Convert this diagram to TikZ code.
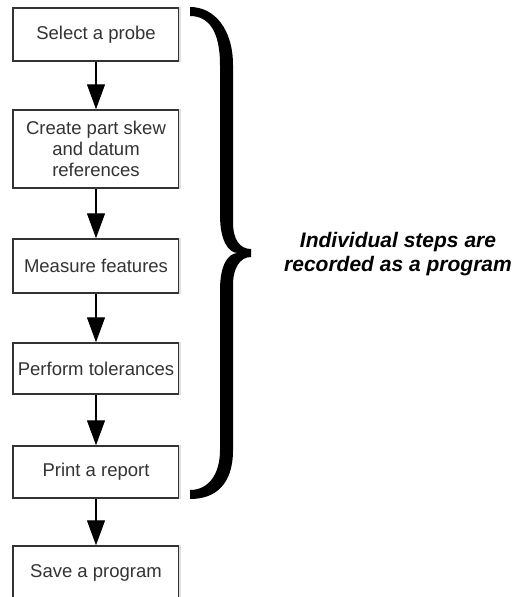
\documentclass[tikz,border=0pt]{standalone}
\usepackage{fontspec}
\setmainfont{Liberation Sans}
\usepackage{tikz}
\usetikzlibrary{arrows.meta}

\tikzset{
  stepbox/.style={draw=black!80,line width=1.5pt,fill=white,text=black!80,
    minimum width=166pt,inner sep=0pt,align=center,
    font=\fontsize{18.5}{21}\selectfont},
  flow/.style={draw=black,line width=1.3pt,-{Triangle[length=25pt,width=18pt]}}
}

\begin{document}
\begin{tikzpicture}[x=1pt,y=-1pt]
  \fill[white] (0,0) rectangle (524,597);
  \useasboundingbox (0,0) rectangle (524,597);
  \node[stepbox,minimum height=53pt] (probe) at (96,34.5) {Select a probe};
  \node[stepbox,minimum height=78pt] (skew) at (96,149) {Create part skew\\and datum\\references};
  \node[stepbox,minimum height=54pt] (measure) at (96,266) {Measure features};
  \node[stepbox,minimum height=51pt] (tolerance) at (96,368.5) {Perform tolerances};
  \node[stepbox,minimum height=52pt] (report) at (96,472) {Print a report};
  \node[stepbox,minimum height=54pt] (save) at (96,573) {Save a program};
  \foreach \n in {probe,skew,measure,tolerance,report,save}
    \draw[gray!25,line width=1.5pt] (\n.north east) -- (\n.south east);
  \draw[flow] (probe) -- (skew);
  \draw[flow] (skew) -- (measure);
  \draw[flow] (measure) -- (tolerance);
  \draw[flow] (tolerance) -- (report);
  \draw[flow] (report) -- (save);
  \fill[black] (190,7) .. controls (215,7) and (233,30) .. (233,65)
    -- (233,222) .. controls (233,240) and (240,249) .. (251,249)
    -- (251,257) .. controls (240,257) and (233,268) .. (233,285)
    -- (233,450) .. controls (233,485) and (215,499) .. (190,499)
    -- (190,490) .. controls (208,490) and (220,475) .. (220,450)
    -- (220,290) .. controls (220,265) and (228,253) .. (238,253)
    .. controls (228,253) and (220,240) .. (220,215)
    -- (220,65) .. controls (220,30) and (208,16) .. (190,16) -- cycle;
  \node[font=\fontsize{21}{24}\selectfont\bfseries\itshape,align=center] (note) at (398,254)
    {Individual steps are\\recorded as a program};
\end{tikzpicture}
\end{document}
